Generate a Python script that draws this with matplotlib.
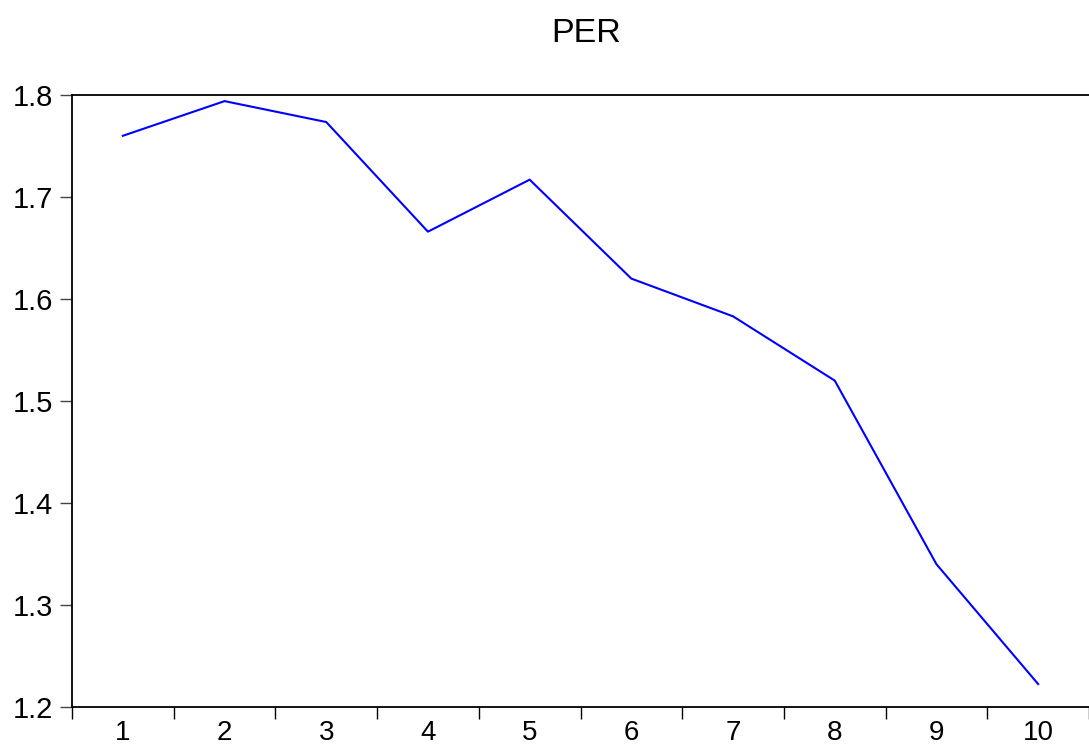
import matplotlib
matplotlib.use("Agg")
import matplotlib.pyplot as plt
from matplotlib.ticker import FixedLocator, NullFormatter

plt.rcParams['font.family'] = ['Liberation Sans', 'DejaVu Sans']

periods = [1, 2, 3, 4, 5, 6, 7, 8, 9, 10]
per_values = [1.760, 1.794, 1.7735, 1.666, 1.717, 1.620, 1.583, 1.520, 1.340, 1.2225]
y_ticks = [1.2, 1.3, 1.4, 1.5, 1.6, 1.7, 1.8]
title = "PER"

fig = plt.figure(figsize=(10.89, 7.49), dpi=100)
ax = fig.add_axes([72/1089, 1 - 707/749, 1 - 72/1089, (707 - 95)/749])

ax.plot(periods, per_values, color='#0000FF', linewidth=1.5)

ax.set_xlim(0.5, 10.5)
ax.set_ylim(1.2, 1.8)

# major ticks (between categories) carry tick marks, minor ticks carry labels
ax.xaxis.set_major_locator(FixedLocator([p + 0.5 for p in [0] + periods]))
ax.xaxis.set_major_formatter(NullFormatter())
ax.set_xticks(periods, [str(p) for p in periods], minor=True)
ax.tick_params(axis='x', which='major', direction='out', length=8.6, width=1, color='black')
ax.tick_params(axis='x', which='minor', length=0, labelsize=20, pad=9)

ax.set_yticks(y_ticks)
ax.set_yticklabels([f"{v:.1f}" for v in y_ticks])
ax.tick_params(axis='y', direction='out', length=8.6, width=1, color='#444444', labelsize=21, pad=5)

for s in ['left', 'bottom', 'top']:
    ax.spines[s].set_linewidth(1.3)
    ax.spines[s].set_color('black')
ax.spines['right'].set_visible(False)

fig.text(586.5 / 1089, 1 - 42/749, title, ha='center', va='baseline', fontsize=24.5)

fig.savefig("out.png", dpi=100)
